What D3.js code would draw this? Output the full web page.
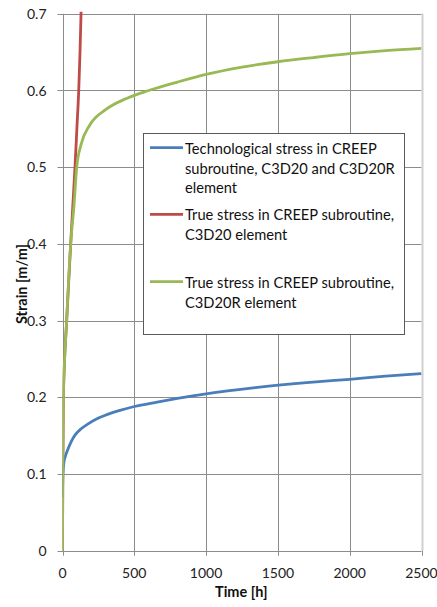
<!DOCTYPE html>
<html><head><meta charset="utf-8">
<script src="https://cdn.jsdelivr.net/npm/d3@7"></script>
<style>body{margin:0;background:#fff}svg{display:block}text{font-family:Lato,"Open Sans",sans-serif}</style>
</head><body><svg id="c" width="437" height="607"></svg>
<script>
const xTicks=[0,500,1000,1500,2000,2500];
const yTicks=[0,0.1,0.2,0.3,0.4,0.5,0.6,0.7];
const seriesNames=["Technological stress in CREEP subroutine, C3D20 and C3D20R element","True stress in CREEP subroutine, C3D20 element","True stress in CREEP subroutine, C3D20R element"];
const seriesColors=["#4A7EBB","#BE4B48","#98B954"];
const blueT=[0,1,3,10,20,35,60,88,130,181,240,298,400,500,650,800,1000,1343,1700,2000,2250,2500];
const blueV=[0.07,0.085,0.1,0.115,0.123,0.131,0.142,0.151,0.159,0.1657,0.172,0.1766,0.183,0.188,0.1935,0.1985,0.2045,0.2125,0.219,0.2235,0.2275,0.231];
const redT=[0,2,6,29,57,72,87,100,113,122,129,134];
const redV=[0,0.1,0.2,0.3,0.4,0.45,0.5,0.55,0.6,0.65,0.7,0.73];
const greenT=[0,2,6,29,57,80,99,130,190,300,450,600,800,1000,1250,1500,1750,2000,2250,2500];
const greenV=[0,0.1,0.2,0.3,0.4,0.45,0.5,0.53,0.555,0.575,0.59,0.6,0.611,0.621,0.6305,0.6375,0.643,0.648,0.652,0.655];

const svg=d3.select("#c");
const L=62.5,R=421.5,T=13.8,B=550.7;
const x=d3.scaleLinear().domain([0,2500]).range([L,R]);
const y=d3.scaleLinear().domain([0,0.7]).range([B,T]);

svg.append("defs").append("clipPath").attr("id","pc").append("rect").attr("x",L).attr("y",T-2).attr("width",R-L).attr("height",B-T+2);

// grid
const g=svg.append("g");
g.selectAll(".gx").data(xTicks).join("line").attr("x1",d=>Math.round(x(d))+0.5).attr("x2",d=>Math.round(x(d))+0.5)
 .attr("y1",T).attr("y2",B+5).attr("stroke","#8c8c8c").attr("stroke-width",1);
g.selectAll(".gy").data(yTicks).join("line").attr("y1",d=>Math.round(y(d))+0.5).attr("y2",d=>Math.round(y(d))+0.5)
 .attr("x1",L-5).attr("x2",R).attr("stroke","#8c8c8c").attr("stroke-width",1);
// right border
svg.append("line").attr("x1",R+1).attr("x2",R+1).attr("y1",T).attr("y2",B).attr("stroke","#d0d0d0").attr("stroke-width",2);

// tick labels
svg.selectAll(".yl").data(yTicks).join("text").attr("x",46.5).attr("y",d=>y(d)+5).attr("text-anchor","end")
 .attr("font-size",14).attr("fill","#222").text(d=>d===0?"0":d.toFixed(1));
svg.selectAll(".xl").data(xTicks).join("text").attr("x",d=>x(d)).attr("y",B+27.5).attr("text-anchor","middle")
 .attr("font-size",14).attr("fill","#222").text(d=>d);

// titles
svg.append("text").attr("transform","translate(26.5,284) rotate(-90)").attr("text-anchor","middle")
 .attr("font-size",14.5).attr("font-weight","bold").attr("fill","#111").text("Strain [m/m]");
svg.append("text").attr("x",241.3).attr("y",597).attr("text-anchor","middle")
 .attr("font-size",14.5).attr("font-weight","bold").attr("fill","#111").text("Time [h]");

// lines
const line=d3.line().x(d=>x(d[0])).y(d=>y(d[1])).curve(d3.curveMonotoneX);
const data=[d3.zip(blueT,blueV),d3.zip(redT,redV),d3.zip(greenT,greenV)];
const pl=svg.append("g").attr("clip-path","url(#pc)");
[1,0,2].forEach(i=>{
 pl.append("path").attr("d",line(data[i])).attr("fill","none").attr("stroke",seriesColors[i]).attr("stroke-width",2.8).attr("stroke-linejoin","round");
});

// legend
const lg=svg.append("g");
lg.append("rect").attr("x",143.5).attr("y",133.5).attr("width",261).attr("height",201).attr("fill","#fff").attr("stroke","#5a5a5a").attr("stroke-width",1);
const legLines=[["Technological stress in CREEP","subroutine, C3D20 and C3D20R","element"],["True stress in CREEP subroutine,","C3D20 element"],["True stress in CREEP subroutine,","C3D20R element"]];
const legY=[147.7,214.3,281.7];
const probe=lg.append("text").attr("font-size",10).text(legLines[0][0]);
const w10=probe.node().getComputedTextLength();probe.remove();
const fs=Math.min(19,10*192/w10);
legLines.forEach((ls,i)=>{
 lg.append("line").attr("x1",150).attr("x2",183).attr("y1",legY[i]).attr("y2",legY[i]).attr("stroke",seriesColors[i]).attr("stroke-width",2.8);
 ls.forEach((t,j)=>{
  lg.append("text").attr("x",185).attr("y",legY[i]+6+j*19.8).attr("font-size",fs).attr("fill","#111").text(t);
 });
});
</script></body></html>
